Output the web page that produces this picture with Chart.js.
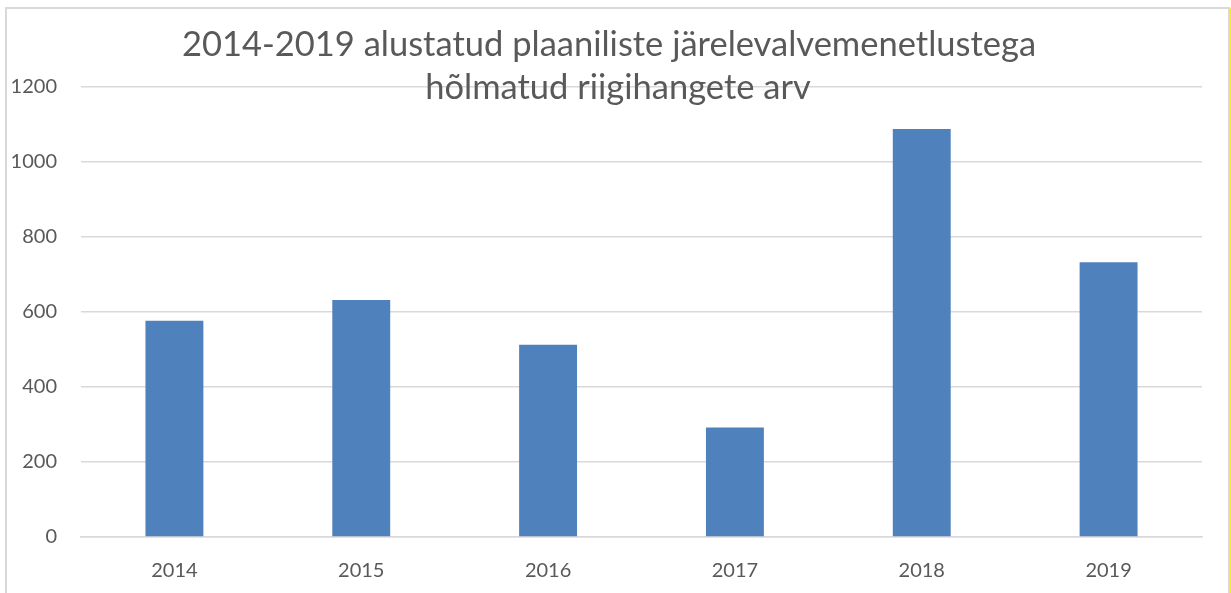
<!DOCTYPE html>
<html>
<head>
<meta charset="utf-8">
<script src="https://cdn.jsdelivr.net/npm/chart.js@4"></script>
<style>
  html, body { margin: 0; padding: 0; background: #fff; }
  #wrap { position: relative; width: 1231px; height: 593px; overflow: hidden; }
  #frame { position: absolute; left: 5px; top: 7px; width: 1221px; height: 600px; border-left: 2px solid #d9d9d9; border-top: 2px solid #d9d9d9; border-right: 2px solid #d9d9d9; }
  #mark { position: absolute; left: 1229px; top: 8px; width: 2px; height: 590px; background: #f5f01a; }
  canvas { position: absolute; left: 0; top: 0; }
</style>
</head>
<body>
<div id="wrap">
  <div id="frame"></div>
  <div id="mark"></div>
  <canvas id="barChart" width="1231" height="593"></canvas>
</div>
<script>
const years = ['2014', '2015', '2016', '2017', '2018', '2019'];
const counts = [577, 632, 513, 292, 1088, 733];
const titleLines = ['2014-2019 alustatud plaaniliste järelevalvemenetlustega', 'hõlmatud riigihangete arv'];

const textColor = '#595959';
const fontFamily = 'Lato, "Open Sans", sans-serif';

// title sits on top of the plot, gridline runs through it
const titlePlugin = {
  id: 'overTitle',
  afterDraw(chart) {
    const ctx = chart.ctx;
    ctx.save();
    ctx.fillStyle = textColor;
    ctx.font = '34.5px ' + fontFamily;
    ctx.textAlign = 'center';
    ctx.textBaseline = 'middle';
    ctx.fillText(titleLines[0], 609, 45);
    ctx.fillText(titleLines[1], 618, 88);
    ctx.restore();
  }
};

new Chart(document.getElementById('barChart'), {
  type: 'bar',
  data: {
    labels: years,
    datasets: [{
      data: counts,
      backgroundColor: '#4f81bd',
      borderWidth: 0,
      categoryPercentage: 1,
      barPercentage: 0.31
    }]
  },
  options: {
    responsive: false,
    animation: false,
    layout: { padding: { top: 87, right: 29, left: 0, bottom: 0 } },
    plugins: {
      legend: { display: false },
      tooltip: { enabled: false },
      title: { display: false }
    },
    scales: {
      x: {
        grid: { display: false, drawTicks: false },
        border: { display: true, color: '#d9d9d9', width: 1.5 },
        ticks: { color: textColor, font: { family: fontFamily, size: 20 }, padding: 22 },
        afterFit(scale) { scale.height = 56; }
      },
      y: {
        min: 0,
        max: 1200,
        ticks: {
          stepSize: 200,
          color: textColor,
          font: { family: fontFamily, size: 20 },
          padding: 24,
          callback: v => String(v)
        },
        grid: { color: '#d9d9d9', lineWidth: 1.5, drawTicks: false },
        border: { display: false },
        afterFit(scale) { scale.width = 81; }
      }
    }
  },
  plugins: [titlePlugin]
});
</script>
</body>
</html>
